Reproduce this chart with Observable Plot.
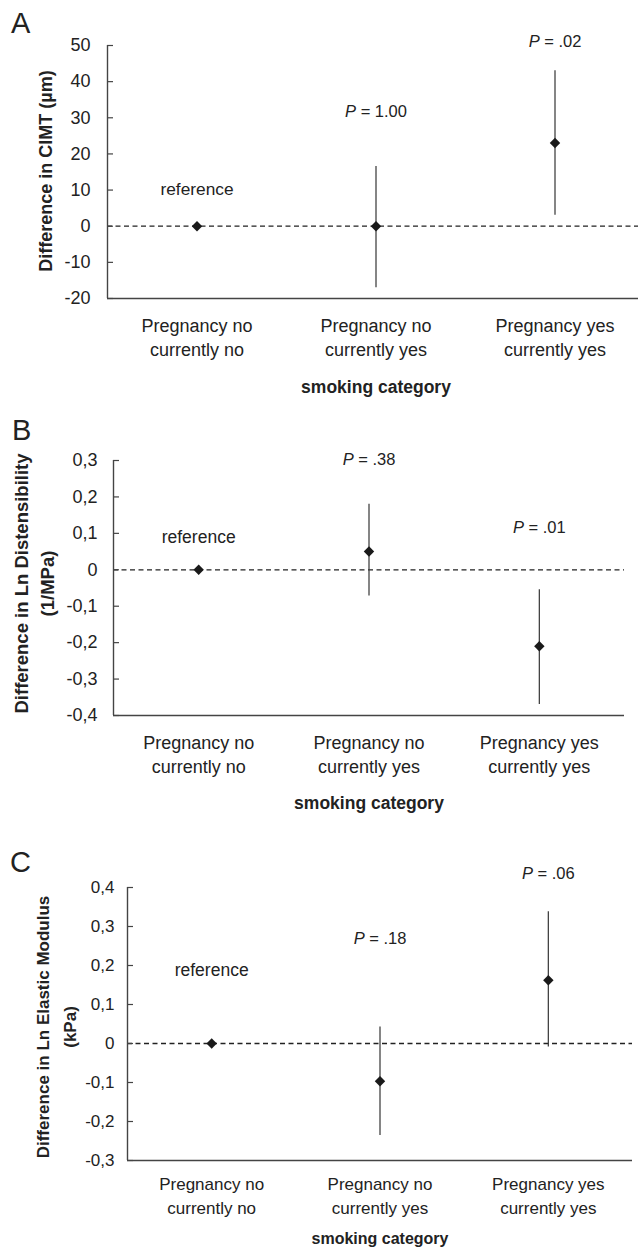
<!DOCTYPE html>
<html>
<head>
<meta charset="utf-8">
<script src="https://cdn.jsdelivr.net/npm/d3@7"></script>
<script src="https://cdn.jsdelivr.net/npm/@observablehq/plot@0.6"></script>
<style>
  html, body { margin: 0; padding: 0; background: #fff; }
  body { width: 638px; font-family: "Liberation Sans", Arial, sans-serif; color: #222; }
  .panel { position: relative; width: 638px; }
  .panel svg { display: block; }
  .letter { position: absolute; font-size: 29px; line-height: 29px; color: #222; }
</style>
</head>
<body>
<div id="root"></div>
<script>
// ---------- shared categories ----------
const categories = ["Pregnancy no\ncurrently no", "Pregnancy no\ncurrently yes", "Pregnancy yes\ncurrently yes"];
const categoryIndex = [0, 1, 2];
const xAxisTitle = "smoking category";
const referenceText = "reference";

// ---------- Panel A: CIMT ----------
const cimtEstimate = [0, 0, 23];
const cimtLower = [null, -17, 3];
const cimtUpper = [null, 16.5, 43];
const cimtP = [null, "1.00", ".02"];
const cimtLabelY = [10.3, 31.6, 51];
const cimtTicks = [-20, -10, 0, 10, 20, 30, 40, 50];
const cimtDomain = [-20, 50];
const cimtTitle = "Difference in CIMT (µm)";

// ---------- Panel B: Ln Distensibility ----------
const distEstimate = [0, 0.05, -0.21];
const distLower = [null, -0.072, -0.37];
const distUpper = [null, 0.18, -0.055];
const distP = [null, ".38", ".01"];
const distLabelY = [0.088, 0.301, 0.115];
const distTicks = [-0.4, -0.3, -0.2, -0.1, 0, 0.1, 0.2, 0.3];
const distDomain = [-0.4, 0.3];
const distTitle = "Difference in Ln Distensibility\n(1/MPa)";

// ---------- Panel C: Ln Elastic Modulus ----------
const elastEstimate = [0, -0.097, 0.162];
const elastLower = [null, -0.236, -0.009];
const elastUpper = [null, 0.042, 0.338];
const elastP = [null, ".18", ".06"];
const elastLabelY = [0.187, 0.268, 0.436];
const elastTicks = [-0.3, -0.2, -0.1, 0, 0.1, 0.2, 0.3, 0.4];
const elastDomain = [-0.3, 0.4];
const elastTitle = "Difference in Ln Elastic Modulus\n(kPa)";

// ---------- helpers ----------
const FONT = '"Liberation Sans", Arial, sans-serif';
const ink = "#222";
const measureCtx = document.createElement("canvas").getContext("2d");
function textWidth(s, font) { measureCtx.font = font; return measureCtx.measureText(s).width; }
const fmtInt = d => String(d);
const fmtComma = d => d === 0 ? "0" : d.toFixed(1).replace(".", ",");

function panel(cfg) {
  const W = 638;
  const rows = categoryIndex.map(i => ({
    i, est: cfg.est[i], lo: cfg.lo[i], hi: cfg.hi[i], p: cfg.p[i], ly: cfg.ly[i]
  }));
  const [y0, y1] = cfg.domain;
  const frameW = W - cfg.marginLeft - cfg.marginRight;
  const fs = cfg.fs;

  const marks = [
    Plot.ruleY([0], {stroke: ink, strokeWidth: 1.3, strokeDasharray: "5,3.5"}),
    Plot.ruleY(cfg.ticks, {stroke: "#444", strokeWidth: 1.2, insetRight: frameW - 6}),
    Plot.ruleY([y0], {stroke: "#444", strokeWidth: 1.4}),
    Plot.ruleX([-0.5], {y1: () => y0, y2: () => y1, stroke: "#444", strokeWidth: 1.4}),
    Plot.axisY({ticks: cfg.ticks, tickFormat: cfg.fmt, tickSize: 0, tickPadding: cfg.tickPad,
      fontSize: cfg.tickFs, label: null, fill: ink}),
    Plot.axisX({ticks: categoryIndex, tickFormat: i => categories[i], tickSize: 0,
      tickPadding: cfg.xPad, lineHeight: cfg.xLine, fontSize: fs, label: null, fill: ink}),
    Plot.ruleX(rows.filter(d => d.lo != null), {x: "i", y1: "lo", y2: "hi", stroke: "#3c3c3c", strokeWidth: 1.25}),
    Plot.dot(rows, {x: "i", y: "est", symbol: "diamond2", r: 4.7, fill: "#1a1a1a", stroke: "none"}),
    Plot.text(rows.filter(d => d.p == null), {x: "i", y: "ly", text: () => referenceText, fontSize: cfg.refFs, fill: ink}),
    Plot.text([cfg.title], {x: () => -0.5, y: () => (y0 + y1) / 2, text: d => d, rotate: -90,
      dx: cfg.titleDx, dy: cfg.titleDy, fontWeight: "bold", fontSize: cfg.titleFs, lineHeight: cfg.titleLine,
      textAnchor: "middle", lineAnchor: "middle", fill: ink}),
    Plot.text([xAxisTitle], {x: () => 1, y: () => y0, text: d => d, dy: cfg.xTitleDy,
      fontWeight: "bold", fontSize: cfg.xTitleFs, lineAnchor: "middle", fill: ink})
  ];

  // P-value labels: italic "P" followed by " = value"
  const fReg = `${cfg.annFs}px ${FONT}`;
  const fIt = `italic ${cfg.annFs}px ${FONT}`;
  rows.filter(d => d.p != null).forEach(d => {
    const rest = "= " + d.p;
    const wP = textWidth("P", fIt);
    const wSp = textWidth(" ", fReg);
    const total = wP + wSp + textWidth(rest, fReg);
    const start = -total / 2;
    marks.push(Plot.text([d], {x: "i", y: "ly", text: () => "P", fontStyle: "italic",
      textAnchor: "start", dx: start, fontSize: cfg.annFs, fill: ink}));
    marks.push(Plot.text([d], {x: "i", y: "ly", text: () => rest,
      textAnchor: "start", dx: start + wP + wSp, fontSize: cfg.annFs, fill: ink}));
  });

  const svg = Plot.plot({
    width: W,
    height: cfg.height,
    marginTop: cfg.marginTop,
    marginBottom: cfg.marginBottom,
    marginLeft: cfg.marginLeft,
    marginRight: cfg.marginRight,
    x: {type: "linear", domain: [-0.5, 2.5], range: cfg.xRange},
    y: {domain: cfg.domain},
    style: {fontFamily: FONT, color: ink, background: "#fff", overflow: "visible"},
    marks
  });

  const wrap = document.createElement("div");
  wrap.className = "panel";
  wrap.style.height = cfg.height + "px";
  wrap.appendChild(svg);
  const letter = document.createElement("div");
  letter.className = "letter";
  letter.textContent = cfg.letter;
  letter.style.left = cfg.letterX + "px";
  letter.style.top = cfg.letterY + "px";
  wrap.appendChild(letter);
  return wrap;
}

const root = document.getElementById("root");

root.appendChild(panel({
  letter: "A", letterX: 11, letterY: 9,
  est: cimtEstimate, lo: cimtLower, hi: cimtUpper, p: cimtP, ly: cimtLabelY,
  ticks: cimtTicks, domain: cimtDomain, fmt: fmtInt, title: cimtTitle,
  height: 400, marginTop: 45, marginBottom: 102, marginLeft: 107, marginRight: 0,
  xRange: [107, 644],
  fs: 18, tickFs: 18, annFs: 16.5, refFs: 17.3, titleFs: 18, xTitleFs: 17.5,
  tickPad: 17, xPad: 17, xLine: 1.33,
  titleDx: -64, titleDy: -1, titleLine: 1.4, xTitleDy: 89
}));

root.appendChild(panel({
  letter: "B", letterX: 12, letterY: 16,
  est: distEstimate, lo: distLower, hi: distUpper, p: distP, ly: distLabelY,
  ticks: distTicks, domain: distDomain, fmt: fmtComma, title: distTitle,
  height: 420, marginTop: 60, marginBottom: 105, marginLeft: 113, marginRight: 14,
  xRange: [113, 624],
  fs: 18, tickFs: 18, annFs: 16.5, refFs: 17.5, titleFs: 18.5, xTitleFs: 17.5,
  tickPad: 16, xPad: 17, xLine: 1.33,
  titleDx: -80.5, titleDy: -4.5, titleLine: 1.38, xTitleDy: 88
}));

root.appendChild(panel({
  letter: "C", letterX: 10, letterY: 28,
  est: elastEstimate, lo: elastLower, hi: elastUpper, p: elastP, ly: elastLabelY,
  ticks: elastTicks, domain: elastDomain, fmt: fmtComma, title: elastTitle,
  height: 429, marginTop: 67, marginBottom: 89, marginLeft: 127, marginRight: 6,
  xRange: [127, 632],
  fs: 17, tickFs: 17, annFs: 16.5, refFs: 17.5, titleFs: 17, xTitleFs: 16,
  tickPad: 13, xPad: 12, xLine: 1.42,
  titleDx: -73.5, titleDy: 3, titleLine: 1.6, xTitleDy: 78
}));
</script>
</body>
</html>
